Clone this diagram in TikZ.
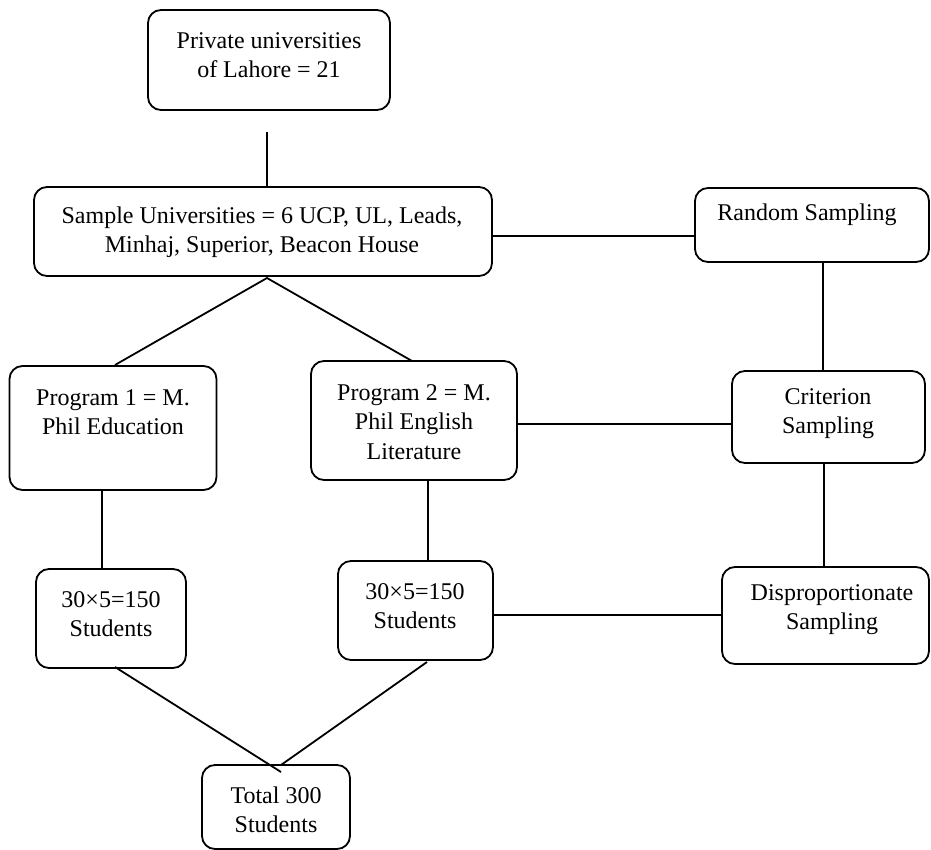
\documentclass[tikz,border=0pt]{standalone}
\usepackage{fontspec}
\setmainfont{Liberation Serif}
\begin{document}
\begin{tikzpicture}[x=0.5pt,y=-0.5pt,
  box/.style={draw, rounded corners=6.5pt, line width=0.9pt, inner sep=0pt},
  txt/.style={align=center, font=\fontsize{12}{14.6}\selectfont, inner sep=0pt},
  conn/.style={line width=0.9pt}]
\useasboundingbox (0,0) rectangle (931,850);
% boxes
\node[box, minimum width=121pt, minimum height=50pt]   (top)  at (269,60) {};
\node[box, minimum width=229pt, minimum height=44.5pt] (samp) at (263,231.5) {};
\node[box, minimum width=117pt, minimum height=37pt]   (rand) at (812,225) {};
\node[box, minimum width=96.5pt, minimum height=46pt]  (crit) at (828.5,417) {};
\node[box, minimum width=103.5pt, minimum height=48.5pt] (disp) at (825.5,615.5) {};
\node[box, minimum width=103.5pt, minimum height=62pt] (pone) at (113,428) {};
\node[box, minimum width=103pt, minimum height=59.5pt] (ptwo) at (414,420.5) {};
\node[box, minimum width=75pt, minimum height=49.5pt]  (bone) at (111,618.5) {};
\node[box, minimum width=77.5pt, minimum height=49.5pt] (btwo) at (415.5,610.5) {};
\node[box, minimum width=74pt, minimum height=42pt]    (tot)  at (276,807) {};
% texts
\node[txt] (ttop)  at (269,55)  {Private universities\\of Lahore = 21};
\node[txt] (tsamp) at (262,232) {Sample Universities = 6 UCP, UL, Leads,\\Minhaj, Superior, Beacon House};
\node[txt] (trand) at (807,215) {Random Sampling};
\node[txt] (tcrit) at (828,414) {Criterion\\Sampling};
\node[txt] (tdisp) at (832,610) {Disproportionate\\Sampling};
\node[txt] (tpone) at (113,412) {Program 1 = M.\\Phil Education};
\node[txt] (tptwo) at (414,422) {Program 2 = M.\\Phil English\\Literature};
\node[txt] (tbone) at (111,614) {30×5=150\\Students};
\node[txt] (tbtwo) at (415,606) {30×5=150\\Students};
\node[txt] (ttot)  at (276,810) {Total 300\\Students};
% helper coordinates
\coordinate (gap)  at (267,132);
\coordinate (apex) at (267,278);
\coordinate (aone) at (115,365);
\coordinate (atwo) at (412,361);
\coordinate (hr)   at (0,236);
\coordinate (hc)   at (0,424);
\coordinate (hd)   at (0,615);
\coordinate (vr)   at (823,0);
\coordinate (vd)   at (824,0);
\coordinate (vone) at (102,0);
\coordinate (vtwo) at (428,0);
\coordinate (bonebot) at (115,667);
\coordinate (btwobot) at (427,662);
\coordinate (tone) at (281,772);
\coordinate (ttwo) at (281,765);
% connectors
\draw[conn] (gap) -- (samp.north -| gap);
\draw[conn] (aone) -- (apex) -- (atwo);
\draw[conn] (samp.east |- hr) -- (rand.west |- hr);
\draw[conn] (rand.south -| vr) -- (crit.north -| vr);
\draw[conn] (crit.south -| vd) -- (disp.north -| vd);
\draw[conn] (ptwo.east |- hc) -- (crit.west |- hc);
\draw[conn] (btwo.east |- hd) -- (disp.west |- hd);
\draw[conn] (pone.south -| vone) -- (bone.north -| vone);
\draw[conn] (ptwo.south -| vtwo) -- (btwo.north -| vtwo);
\draw[conn] (bonebot) -- (tone);
\draw[conn] (btwobot) -- (ttwo);
\end{tikzpicture}
\end{document}
